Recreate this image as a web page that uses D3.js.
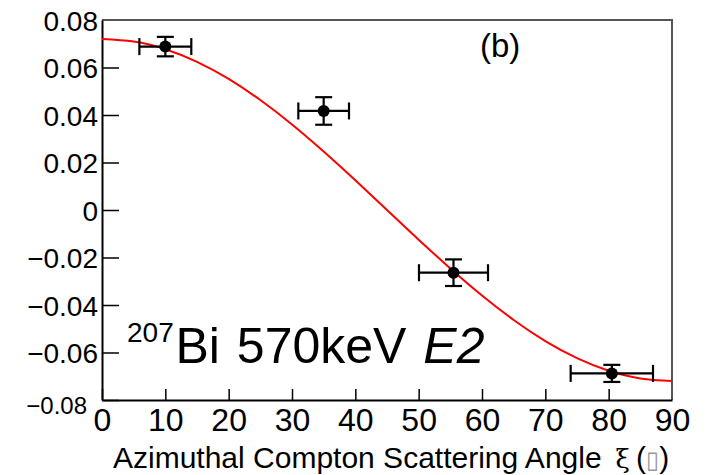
<!DOCTYPE html>
<html>
<head>
<meta charset="utf-8">
<script src="https://cdn.jsdelivr.net/npm/d3@7"></script>
<style>
  body { margin: 0; background: #fff; }
  svg { display: block; font-family: 'Liberation Sans', Arial, sans-serif; }
</style>
</head>
<body>
<svg id="chart" width="717" height="475"></svg>
<script>
// measured points (angle in deg, asymmetry) with errors
const angles = [10, 35, 55.5, 80.5]
const angleErrs = [4.1, 4.0, 5.45, 6.5]
const asymmetries = [0.0688, 0.0417, -0.0264, -0.0688]
const asymmetryErrs = [0.0041, 0.0058, 0.0056, 0.0036]

// fit curve
const fitAngles = [0, 5, 10, 15, 20, 25, 30, 35, 40, 45, 50, 55, 60, 65, 70, 75, 80, 85, 90]
const fitValues = [0.072, 0.0709, 0.0677, 0.0624, 0.0552, 0.0463, 0.036, 0.0246, 0.0125, 0,
  -0.0125, -0.0246, -0.036, -0.0463, -0.0552, -0.0624, -0.0677, -0.0709, -0.072]

const xTicks = [0, 10, 20, 30, 40, 50, 60, 70, 80, 90]
const yTicks = [-0.08, -0.06, -0.04, -0.02, 0, 0.02, 0.04, 0.06, 0.08]
const yTickLabels = ['\u22120.08', '\u22120.06', '\u22120.04', '\u22120.02', '0', '0.02', '0.04', '0.06', '0.08']

const svg = d3.select('#chart')
const x = d3.scaleLinear().domain([0, 90]).range([102, 672])
const y = d3.scaleLinear().domain([-0.08, 0.08]).range([400, 20])

// frame (top / right)
svg.append('path')
  .attr('d', `M${x(0)},${y(0.08)}H${x(90)}V${y(-0.08)}`)
  .style('fill', 'none').style('stroke', '#555').style('stroke-width', 2)

const gY = svg.append('g').attr('transform', `translate(${x(0)},0)`)
  .call(d3.axisLeft(y).tickValues(yTicks).tickSizeInner(-17).tickSizeOuter(0).tickPadding(4)
    .tickFormat((d, i) => yTickLabels[i]))
gY.selectAll('text').style('font-size', '28px').style('fill', '#000').attr('dy', '0.36em')
gY.selectAll('text').filter((d) => d === -0.08)
  .style('font-size', '24px').attr('x', -15).attr('dy', '13px')

const gX = svg.append('g').attr('transform', `translate(0,${y(-0.08)})`)
  .call(d3.axisBottom(x).tickValues(xTicks).tickSizeInner(-11).tickSizeOuter(0).tickPadding(8))
gX.selectAll('text').style('font-size', '32px').style('fill', '#000')

svg.selectAll('.domain').style('stroke', '#000').style('stroke-width', 2)
svg.selectAll('.tick line').style('stroke', '#000').style('stroke-width', 1.5)
svg.selectAll('.tick').filter((d) => d === 0.08 || d === 90).select('line').remove()

// fit
const line = d3.line()
  .x((d) => x(d[0]))
  .y((d) => y(d[1]))
  .curve(d3.curveNatural)
svg.append('path')
  .datum(fitAngles.map((a, i) => [a, fitValues[i]]))
  .attr('d', line)
  .style('fill', 'none').style('stroke', '#ff0000').style('stroke-width', 2)

// data with error bars
const points = angles.map((a, i) => ({ a, v: asymmetries[i], ea: angleErrs[i], ev: asymmetryErrs[i] }))
const gPts = svg.append('g').style('stroke', '#000').style('stroke-width', 2.2)
const cap = 8.5
points.forEach((p) => {
  const g = gPts.append('g')
  g.append('line').attr('x1', x(p.a - p.ea)).attr('x2', x(p.a + p.ea)).attr('y1', y(p.v)).attr('y2', y(p.v))
  g.append('line').attr('x1', x(p.a)).attr('x2', x(p.a)).attr('y1', y(p.v - p.ev)).attr('y2', y(p.v + p.ev))
  g.append('line').attr('x1', x(p.a - p.ea)).attr('x2', x(p.a - p.ea)).attr('y1', y(p.v) - cap).attr('y2', y(p.v) + cap)
  g.append('line').attr('x1', x(p.a + p.ea)).attr('x2', x(p.a + p.ea)).attr('y1', y(p.v) - cap).attr('y2', y(p.v) + cap)
  g.append('line').attr('x1', x(p.a) - cap).attr('x2', x(p.a) + cap).attr('y1', y(p.v - p.ev)).attr('y2', y(p.v - p.ev))
  g.append('line').attr('x1', x(p.a) - cap).attr('x2', x(p.a) + cap).attr('y1', y(p.v + p.ev)).attr('y2', y(p.v + p.ev))
  g.append('circle').attr('cx', x(p.a)).attr('cy', y(p.v)).attr('r', 6).style('fill', '#000').style('stroke', 'none')
})

// labels
svg.append('text').attr('x', 480).attr('y', 57).style('font-size', '33px').text('(b)')

svg.append('text').attr('x', 127).attr('y', 341.7).style('font-size', '28px').text('207')
const big = svg.append('text').attr('x', 175.5).attr('y', 363.3).style('font-size', '50px').style('word-spacing', '3px')
big.append('tspan').text('Bi 570keV ')
big.append('tspan').style('font-style', 'italic').text('E2')

const title = svg.append('text').attr('x', 113).attr('y', 467.7).style('font-size', '30px')
title.append('tspan').text('Azimuthal Compton Scattering Angle')
title.append('tspan').attr('dx', 14).style('font-family', "'DejaVu Serif', serif").style('font-size', '26px').text('\u03be')
title.append('tspan').attr('dx', 6).text('(')
title.append('tspan').style('font-family', "'DejaVu Sans'").style('fill', '#999').style('font-size', '24px').text('\u25af')
title.append('tspan').text(')')
</script>
</body>
</html>
